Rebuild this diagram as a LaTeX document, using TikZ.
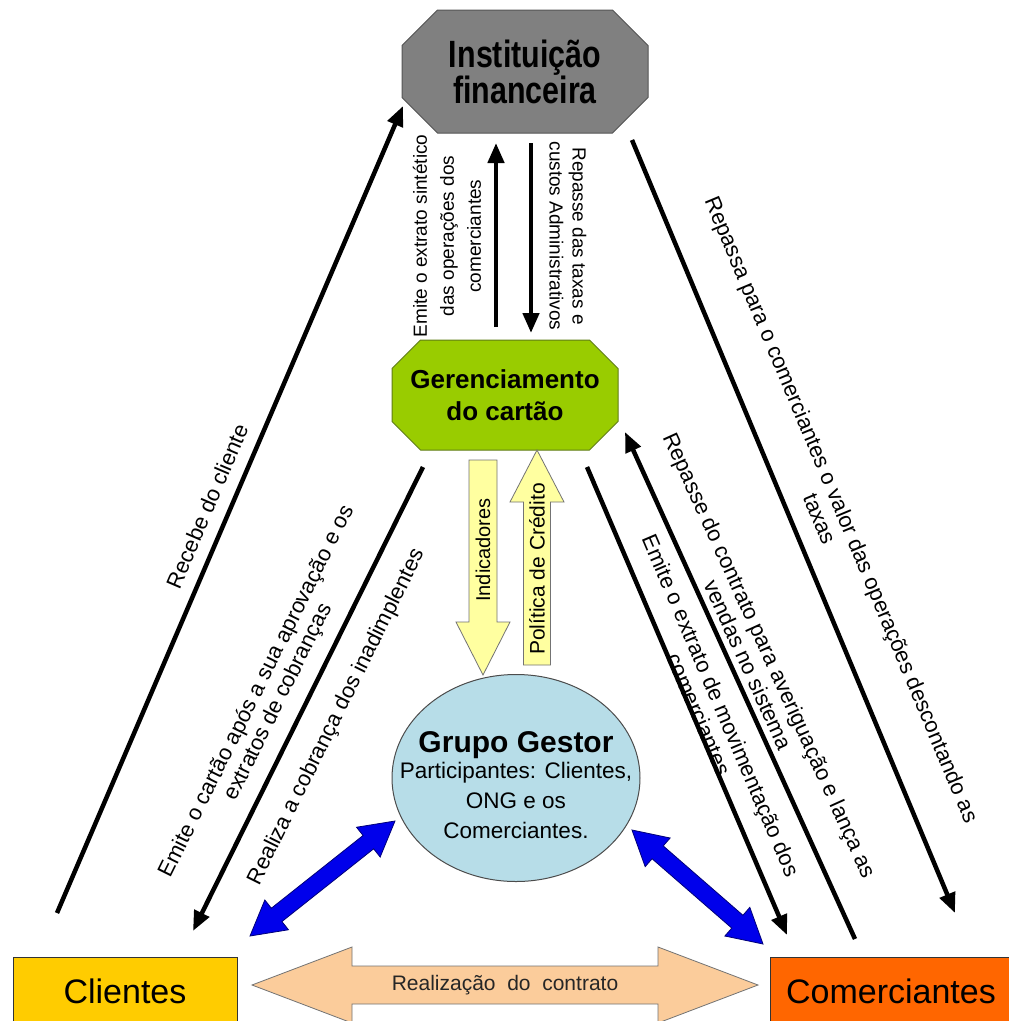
\documentclass[tikz,border=0pt]{standalone}
\usepackage{fontspec}
\setmainfont{Liberation Sans}
\usetikzlibrary{shapes.geometric,shapes.misc,arrows.meta,calc}
\definecolor{finC}{RGB}{128,128,128}
\definecolor{finB}{RGB}{85,85,85}
\definecolor{gerC}{RGB}{153,204,0}
\definecolor{gerB}{RGB}{95,125,20}
\definecolor{ggC}{RGB}{183,221,232}
\definecolor{yelC}{RGB}{255,255,160}
\definecolor{peaC}{RGB}{251,204,155}
\definecolor{cliC}{RGB}{255,204,0}
\definecolor{comC}{RGB}{255,102,0}
\definecolor{bluC}{RGB}{0,0,235}
\definecolor{bluB}{RGB}{0,0,120}
% single block arrow: style, tail, tip, head length, shaft half width, head half width
\newcommand\blockarrowone[6]{%
  \path[#1] ($(#2)!#5!90:(#3)$) -- ($(#3)!#4!(#2)!#5!-90:(#2)$) -- ($(#3)!#4!(#2)!#6!-90:(#2)$) -- (#3)
    -- ($(#3)!#4!(#2)!#6!90:(#2)$) -- ($(#3)!#4!(#2)!#5!90:(#2)$) -- ($(#2)!#5!-90:(#3)$) -- cycle;}
% double block arrow: style, tip A, tip B, head length, shaft half width, head half width
\newcommand\blockarrowtwo[6]{%
  \path[#1] (#2) -- ($(#2)!#4!(#3)!#6!90:(#3)$) -- ($(#2)!#4!(#3)!#5!90:(#3)$)
    -- ($(#3)!#4!(#2)!#5!-90:(#2)$) -- ($(#3)!#4!(#2)!#6!-90:(#2)$) -- (#3)
    -- ($(#3)!#4!(#2)!#6!90:(#2)$) -- ($(#3)!#4!(#2)!#5!90:(#2)$)
    -- ($(#2)!#4!(#3)!#5!-90:(#3)$) -- ($(#2)!#4!(#3)!#6!-90:(#3)$) -- cycle;}
\begin{document}
\begin{tikzpicture}[x=1pt,y=-1pt,
  octa/.style={chamfered rectangle, chamfered rectangle xsep=#1, draw, line width=1pt, align=center, inner sep=0pt},
  boxnode/.style={rectangle, draw=black!80, line width=0.8pt, minimum height=68pt, inner sep=0pt, font=\fontsize{34}{36}\selectfont},
  blk/.style={line width=4.5pt, -{Triangle[length=20pt,width=16pt]}},
  dlbl/.style={font=\fontsize{22}{24}\selectfont, align=center, inner sep=0pt},
  vlbl/.style={font=\fontsize{19}{#1}\selectfont, align=center, inner sep=0pt},
  ylbl/.style={inner sep=0pt},
  yarrow/.style={fill=yelC, draw=black!55, line width=0.8pt, line join=miter},
  parrow/.style={fill=peaC, draw=black!55, line width=0.8pt, line join=miter},
  barrow/.style={fill=bluC, draw=bluB, line width=0.8pt, line join=miter}]
\useasboundingbox (0,0) rectangle (1009,1021);
\clip (0,0) rectangle (1009,1021);
\fill[white] (0,0) rectangle (1009,1021);

% main nodes
\node[octa=35pt, fill=finC, draw=finB, minimum width=246pt, minimum height=123pt,
      font=\fontsize{38}{36}\selectfont\bfseries] (fin) at (525,71.5)
  {\scalebox{0.8}[1]{Instituição}\\\scalebox{0.8}[1]{financeira}};
\node[octa=25pt, fill=gerC, draw=gerB, minimum width=226pt, minimum height=110pt,
      font=\fontsize{26}{32}\selectfont\bfseries] (ger) at (505,395)
  {\makebox[170pt]{Gerenciamento}\\\makebox[170pt]{do cartão}};
\node[ellipse, fill=ggC, draw=black!70, line width=1pt, minimum width=248pt, minimum height=207pt] (gg) at (516,778) {};
\node[align=center, inner sep=0pt, font=\fontsize{22.5}{30}\selectfont] (ggt) at (516,785)
  {{\fontsize{30}{30}\selectfont\bfseries Grupo Gestor}\\[-4pt]Participantes: Clientes,\\ONG e os\\Comerciantes.};
\node[boxnode, fill=cliC, minimum width=224pt] (cli) at (125,991) {Clientes};
\node[boxnode, fill=comC, minimum width=242pt] (com) at (891,991) {Comerciantes};

% connector end points
\coordinate (recS) at (57,913);  \coordinate (recE) at (403,106);
\coordinate (emS) at (423,467);  \coordinate (emE) at (193,931);
\coordinate (rpS) at (632,140);  \coordinate (rpE) at (955,913);
\coordinate (exS) at (587,467);  \coordinate (exE) at (787,935);
\coordinate (ctS) at (855,939);  \coordinate (ctE) at (625,432);
\coordinate (upS) at (496,327);  \coordinate (upE) at (496,143);
\coordinate (dnS) at (531,143);  \coordinate (dnE) at (531,333);
\coordinate (indS) at (483,460); \coordinate (indE) at (483,675);
\coordinate (polS) at (537,665); \coordinate (polE) at (537,450);
\coordinate (conA) at (252,985); \coordinate (conB) at (758,985);
\coordinate (blA) at (250,936);  \coordinate (blB) at (395,821);
\coordinate (brA) at (632,830);  \coordinate (brB) at (763,944);

% black arrows
\draw[blk] (recS) -- (recE);
\draw[blk] (emS) -- (emE);
\draw[blk] (rpS) -- (rpE);
\draw[blk] (exS) -- (exE);
\draw[blk] (ctS) -- (ctE);
\draw[blk] (upS) -- (upE);
\draw[blk] (dnS) -- (dnE);

% block arrows
\blockarrowone{yarrow}{indS}{indE}{53pt}{14pt}{27pt}
\blockarrowone{yarrow}{polS}{polE}{52pt}{13.5pt}{27pt}
\blockarrowtwo{parrow}{conA}{conB}{100pt}{19pt}{38pt}
\blockarrowtwo{barrow}{blA}{blB}{34pt}{8.5pt}{19pt}
\blockarrowtwo{barrow}{brA}{brB}{34pt}{8.5pt}{19pt}

% labels
\node[dlbl, rotate=66.8] (lrec) at (207,506) {Recebe do cliente};
\node[dlbl, rotate=63.6] (lem) at (268,697) {Emite o cartão após a sua aprovação e os\\extratos de cobranças};
\node[dlbl, rotate=63.6] (lre) at (337,717) {Realiza a cobrança dos inadimplentes};
\node[dlbl, rotate=-67.3] (lrp) at (831,514) {Repassa para o comerciantes o valor das operações descontando as\\taxas};
\node[dlbl, rotate=-65.6] (lct) at (759,660) {Repasse do contrato para averiguação e lança as\\vendas no sistema};
\node[dlbl, rotate=-66.9] (lex) at (710,710) {Emite o extrato de movimentação dos\\comerciantes};
\node[vlbl=27, rotate=90] (lsin) at (447,236) {Emite o extrato sintético\\das operações dos\\comerciantes};
\node[vlbl=23, rotate=-90] (ltax) at (568,236) {Repasse das taxas e\\custos Administrativos};
\node[ylbl, rotate=90, font=\fontsize{20}{22}\selectfont] (lind) at (483,550) {Indicadores};
\node[ylbl, rotate=90, font=\fontsize{21}{22}\selectfont] (lpol) at (537,569) {Política de Crédito};
\node[inner sep=0pt, text=black!85, font=\fontsize{21}{22}\selectfont] (lcon) at (505,985) {Realização\ \ do\ \ contrato};
\end{tikzpicture}
\end{document}
